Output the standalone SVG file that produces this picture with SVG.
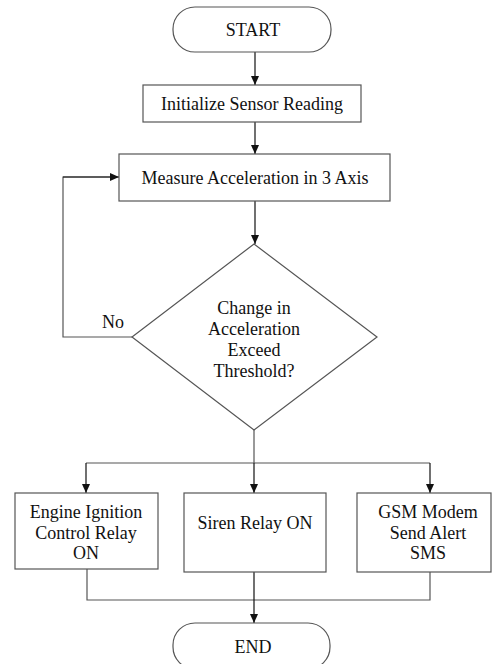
<svg xmlns="http://www.w3.org/2000/svg" width="492" height="664" viewBox="0 0 492 664">
<style>
.box{fill:#fff;stroke:#555;stroke-width:1.2}
.ln{fill:none;stroke:#555;stroke-width:1.2}
.ar{fill:none;stroke:#111;stroke-width:1.2;marker-end:url(#ah)}
.t{font-size:18px;fill:#111;text-anchor:middle}
</style>
<defs>
<marker id="ah" markerWidth="10" markerHeight="10" refX="9" refY="5" orient="auto" markerUnits="userSpaceOnUse">
<path d="M0,1 L9,5 L0,9 Z" fill="#111"/>
</marker>
</defs>
<rect width="492" height="664" fill="#fff"/>
<g id="connectors">
<line class="ar" x1="255" y1="52" x2="255" y2="85"/>
<line class="ar" x1="255" y1="122" x2="255" y2="154"/>
<line class="ar" x1="255" y1="201" x2="255" y2="244"/>
<polyline class="ln" points="132,337 63,337 63,177 110,177"/>
<line class="ar" x1="63" y1="177" x2="119" y2="177"/>
<line class="ln" x1="254" y1="430" x2="254" y2="463"/>
<line class="ln" x1="86" y1="463" x2="430" y2="463"/>
<line class="ar" x1="86" y1="463" x2="86" y2="493"/>
<line class="ar" x1="254" y1="463" x2="254" y2="493"/>
<line class="ar" x1="430" y1="463" x2="430" y2="493"/>
<polyline class="ln" points="87,569 87,600 430,600 430,572"/>
<line class="ar" x1="254" y1="572" x2="254" y2="623"/>
</g>
<g font-family="Liberation Serif, DejaVu Serif, Times New Roman, serif">
<text class="t" x="113" y="328">No</text>
<g id="start">
<rect class="box" x="173" y="7" width="158" height="45" rx="22" ry="22"/>
<text class="t" x="253" y="36">START</text>
</g>
<g id="init">
<rect class="box" x="143" y="85" width="218" height="37"/>
<text class="t" x="252" y="110">Initialize Sensor Reading</text>
</g>
<g id="measure">
<rect class="box" x="119" y="154" width="271" height="47"/>
<text class="t" x="255" y="184">Measure Acceleration in 3 Axis</text>
</g>
<g id="decision">
<polygon class="box" points="254,244 377,337 254,430 132,337"/>
<text class="t" x="254" y="314">Change in</text>
<text class="t" x="254" y="335">Acceleration</text>
<text class="t" x="254" y="356">Exceed</text>
<text class="t" x="254" y="377">Threshold?</text>
</g>
<g id="engine">
<rect class="box" x="15" y="493" width="143" height="76"/>
<text class="t" x="86" y="518">Engine Ignition</text>
<text class="t" x="86" y="539">Control Relay</text>
<text class="t" x="86" y="559">ON</text>
</g>
<g id="siren">
<rect class="box" x="184" y="493" width="142" height="79"/>
<text class="t" x="255" y="529">Siren Relay ON</text>
</g>
<g id="gsm">
<rect class="box" x="357" y="493" width="134" height="79"/>
<text class="t" x="428" y="518">GSM Modem</text>
<text class="t" x="428" y="539">Send Alert</text>
<text class="t" x="428" y="559">SMS</text>
</g>
<g id="end">
<rect class="box" x="173" y="623" width="157" height="46" rx="22" ry="22"/>
<text class="t" x="253" y="653">END</text>
</g>
</g>
</svg>
